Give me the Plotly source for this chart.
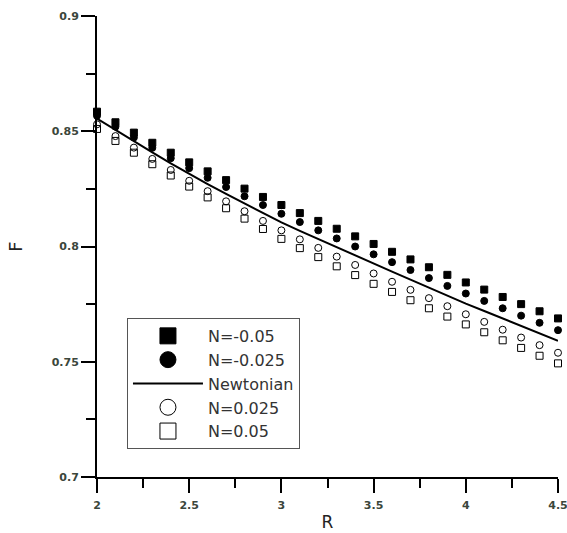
import plotly.graph_objects as go

R = [2.0, 2.1, 2.2, 2.3, 2.4, 2.5, 2.6, 2.7, 2.8, 2.9, 3.0, 3.1, 3.2,
     3.3, 3.4, 3.5, 3.6, 3.7, 3.8, 3.9, 4.0, 4.1, 4.2, 4.3, 4.4, 4.5]

F_newtonian = [0.8555, 0.8505, 0.8456, 0.8408, 0.8361, 0.8315, 0.8271, 0.8228, 0.8186,
               0.8145, 0.8105, 0.8068, 0.8032, 0.7996, 0.7961, 0.7926, 0.7891, 0.7856,
               0.7821, 0.7786, 0.7752, 0.7720, 0.7687, 0.7655, 0.7623, 0.7591]

F_n_m005 = [0.8585, 0.8539, 0.8494, 0.8450, 0.8407, 0.8365, 0.8326, 0.8288, 0.8251,
            0.8215, 0.8180, 0.8145, 0.8111, 0.8077, 0.8044, 0.8011, 0.7977, 0.7944,
            0.7910, 0.7877, 0.7844, 0.7813, 0.7781, 0.7750, 0.7719, 0.7688]

F_n_m0025 = [0.8567, 0.8520, 0.8473, 0.8428, 0.8383, 0.8340, 0.8298, 0.8258, 0.8218,
             0.8180, 0.8142, 0.8106, 0.8070, 0.8035, 0.8000, 0.7966, 0.7932, 0.7898,
             0.7863, 0.7829, 0.7796, 0.7764, 0.7732, 0.7700, 0.7669, 0.7637]

F_n_p0025 = [0.8530, 0.8479, 0.8429, 0.8380, 0.8332, 0.8285, 0.8240, 0.8196, 0.8153,
             0.8111, 0.8070, 0.8031, 0.7994, 0.7956, 0.7920, 0.7883, 0.7847, 0.7812,
             0.7776, 0.7741, 0.7706, 0.7673, 0.7639, 0.7605, 0.7572, 0.7539]

F_n_p005 = [0.8510, 0.8458, 0.8407, 0.8357, 0.8308, 0.8260, 0.8213, 0.8166, 0.8121,
            0.8076, 0.8033, 0.7993, 0.7954, 0.7914, 0.7876, 0.7838, 0.7803, 0.7767,
            0.7732, 0.7696, 0.7662, 0.7628, 0.7593, 0.7560, 0.7526, 0.7493]

names = ["N=-0.05", "N=-0.025", "Newtonian", "N=0.025", "N=0.05"]

fig = go.Figure()

marker_series = [
    (F_n_m005, names[0], "square"),
    (F_n_m0025, names[1], "circle"),
    (F_n_p0025, names[3], "circle-open"),
    (F_n_p005, names[4], "square-open"),
]

# data traces (no legend)
for ys, nm, sym in marker_series:
    fig.add_trace(go.Scatter(x=R, y=ys, mode="markers", name=nm, showlegend=False,
                             cliponaxis=False,
                             marker=dict(symbol=sym, size=7, color="black",
                                         line=dict(width=1, color="black"))))
fig.add_trace(go.Scatter(x=R, y=F_newtonian, mode="lines", name=names[2], showlegend=False,
                         line=dict(color="black", width=2)))

# legend entries (larger symbols, in reference order)
legend_specs = [
    (names[0], "markers", "square"),
    (names[1], "markers", "circle"),
    (names[2], "lines", None),
    (names[3], "markers", "circle-open"),
    (names[4], "markers", "square-open"),
]
for nm, md, sym in legend_specs:
    if md == "lines":
        fig.add_trace(go.Scatter(x=[None], y=[None], mode="lines", name=nm,
                                 line=dict(color="black", width=2)))
    else:
        fig.add_trace(go.Scatter(x=[None], y=[None], mode="markers", name=nm,
                                 marker=dict(symbol=sym, size=16, color="black",
                                             line=dict(width=1, color="black"))))

tickfont = dict(family="DejaVu Sans, Verdana, sans-serif", size=11,
                color="#3b463b", weight="bold")

fig.update_layout(
    width=567, height=533,
    margin=dict(l=97, r=9, t=16, b=56),
    paper_bgcolor="white", plot_bgcolor="white",
    font=dict(family="DejaVu Sans, Verdana, sans-serif", color="#222222"),
    legend=dict(x=0.065, y=0.345, xanchor="left", yanchor="top",
                bordercolor="#555555", borderwidth=1, bgcolor="white",
                font=dict(size=16, color="#333333"), itemwidth=70,
                tracegroupgap=0),
)

fig.update_xaxes(range=[2, 4.5], showgrid=False, zeroline=False, automargin=False,
                 showline=True, linecolor="black", linewidth=2,
                 ticks="outside", ticklen=14, tickwidth=2, tickcolor="black",
                 dtick=0.5, tick0=2, tickfont=tickfont, ticklabelstandoff=3,
                 ticklabeloverflow="allow",
                 minor=dict(ticks="outside", ticklen=9, tickwidth=2, tickcolor="black",
                            dtick=0.25, showgrid=False),
                 title=dict(text="R", font=dict(size=17, color="#222222"), standoff=5))
fig.update_yaxes(range=[0.7, 0.9], showgrid=False, zeroline=False, automargin=False,
                 showline=True, linecolor="black", linewidth=2,
                 ticks="outside", ticklen=14, tickwidth=2, tickcolor="black",
                 dtick=0.05, tick0=0.7, tickfont=tickfont, tickformat="~g",
                 minor=dict(ticks="outside", ticklen=9, tickwidth=2, tickcolor="black",
                            dtick=0.025, showgrid=False),
                 title=dict(text="F", font=dict(size=18, color="#222222"), standoff=24))

# remove the default page margin so the 567x533 figure fills the window exactly
fig.write_html("out.html", config={"displayModeBar": False},
               post_script="document.body.style.margin='0';document.body.style.overflow='hidden';")
